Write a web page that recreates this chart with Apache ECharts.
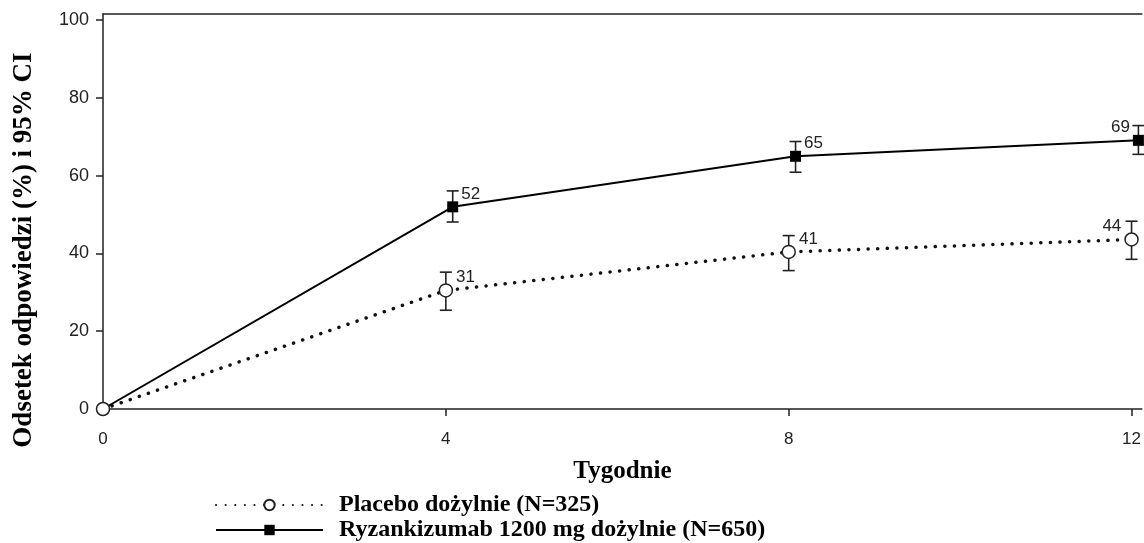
<!DOCTYPE html>
<html lang="pl">
<head>
    <meta charset="UTF-8">
    <title>Odsetek odpowiedzi</title>
    <script type="text/javascript" src="https://cdn.jsdelivr.net/npm/echarts@6/dist/echarts.min.js"></script>
    <style>
        html, body { margin: 0; padding: 0; background: #fff; }
    </style>
</head>
<body>
    <div id="main" style="width: 1144px;height:543px;"></div>
    <script type="text/javascript">
        // dane
        var weeks = [0, 4, 8, 12];
        var xTicks = [0, 4, 8, 12];
        var yTicks = [0, 20, 40, 60, 80, 100];

        var placeboName = 'Placebo dożylnie (N=325)';
        var placeboMean = [0, 30.5, 40.4, 43.6];
        var placeboLow = [null, 25.4, 35.6, 38.5];
        var placeboHigh = [null, 35.2, 44.6, 48.3];
        var placeboLabels = ['', '31', '41', '44'];

        var activeName = 'Ryzankizumab 1200 mg dożylnie (N=650)';
        var activeMean = [0, 52.0, 65.0, 69.1];
        var activeLow = [null, 48.1, 60.9, 65.5];
        var activeHigh = [null, 56.1, 68.8, 72.9];
        var activeLabels = ['', '52', '65', '69'];

        // przesunięcie punktów drugiej grupy, żeby się nie nakładały
        var shift = 0.08;

        var myChart = echarts.init(document.getElementById('main'));

        function pointData(mean, labels, dx, hideFirst) {
            return weeks.map(function (w, i) {
                var item = {
                    value: [w === 0 ? 0 : w + dx, mean[i]],
                    label: {
                        show: labels[i] !== '',
                        formatter: labels[i],
                        position: i === weeks.length - 1 ? 'left' : 'right'
                    }
                };
                if (hideFirst && i === 0) item.symbol = 'none';
                return item;
            });
        }

        function barData(low, high, dx) {
            var out = [];
            weeks.forEach(function (w, i) {
                if (low[i] != null) out.push([w + dx, low[i], high[i]]);
            });
            return out;
        }

        function renderErrorBar(params, api) {
            var x = api.value(0);
            var lo = api.coord([x, api.value(1)]);
            var hi = api.coord([x, api.value(2)]);
            var half = 6;
            var style = { stroke: '#222', lineWidth: 1.6 };
            return {
                type: 'group',
                children: [
                    { type: 'line', shape: { x1: lo[0], y1: lo[1], x2: hi[0], y2: hi[1] }, style: style },
                    { type: 'line', shape: { x1: lo[0] - half, y1: lo[1], x2: lo[0] + half, y2: lo[1] }, style: style },
                    { type: 'line', shape: { x1: hi[0] - half, y1: hi[1], x2: hi[0] + half, y2: hi[1] }, style: style }
                ]
            };
        }

        var labelStyle = {
            fontFamily: 'Liberation Sans',
            fontSize: 17,
            color: '#222',
            distance: 3,
            offset: [0, -13]
        };

        // wspólny wygląd obu wierszy legendy
        function legendRow(name, top) {
            return {
                left: 215,
                top: top,
                padding: 0,
                itemWidth: 107,
                itemHeight: 13,
                textStyle: {
                    fontFamily: 'Liberation Serif',
                    fontWeight: 'bold',
                    fontSize: 24,
                    color: '#000',
                    padding: [0, 0, 0, 11]
                },
                data: [name]
            };
        }

        var option = {
            animation: false,
            // tytuł osi Y (przesunięty w dół jak w oryginale)
            graphic: [{
                type: 'text',
                x: 24,
                y: 250,
                rotation: Math.PI / 2,
                style: {
                    text: 'Odsetek odpowiedzi (%) i 95% CI',
                    fontFamily: 'Liberation Serif',
                    fontWeight: 'bold',
                    fontSize: 27,
                    fill: '#000',
                    align: 'center',
                    verticalAlign: 'middle'
                }
            }],
            grid: {
                left: 103,
                top: 14,
                right: 0,
                bottom: 134
            },
            legend: [legendRow(placeboName, 493), legendRow(activeName, 518)],
            xAxis: [{
                type: 'value',
                min: 0,
                max: 12.12,
                name: 'Tygodnie',
                nameLocation: 'middle',
                nameGap: 50,
                nameTextStyle: {
                    fontFamily: 'Liberation Serif',
                    fontWeight: 'bold',
                    fontSize: 25,
                    color: '#000'
                },
                splitLine: { show: false },
                axisLine: { lineStyle: { color: '#222', width: 1.5 } },
                axisTick: { customValues: xTicks, length: 7, lineStyle: { color: '#222', width: 1.5 } },
                axisLabel: {
                    customValues: xTicks,
                    margin: 22,
                    fontFamily: 'Liberation Sans',
                    fontSize: 17,
                    color: '#222'
                }
            }, {
                // górna krawędź ramki
                type: 'value',
                position: 'top',
                min: 0,
                max: 12.12,
                splitLine: { show: false },
                axisLine: { show: true, lineStyle: { color: '#222', width: 1.5 } },
                axisTick: { show: false },
                axisLabel: { show: false }
            }],
            yAxis: {
                type: 'value',
                min: 0,
                max: 101.6,
                splitLine: { show: false },
                axisLine: { show: true, lineStyle: { color: '#222', width: 1.5 } },
                axisTick: { show: true, customValues: yTicks, length: 7, lineStyle: { color: '#222', width: 1.5 } },
                axisLabel: {
                    customValues: yTicks,
                    margin: 14,
                    fontFamily: 'Liberation Sans',
                    fontSize: 18,
                    color: '#222'
                }
            },
            series: [{
                name: placeboName,
                type: 'line',
                z: 3,
                data: pointData(placeboMean, placeboLabels, 0, false),
                symbol: 'circle',
                symbolSize: 13,
                itemStyle: { color: '#fff', borderColor: '#222', borderWidth: 1.5 },
                lineStyle: { color: '#111', width: 3.5, type: [0.1, 9.5], cap: 'round' },
                label: labelStyle
            }, {
                name: activeName,
                type: 'line',
                z: 3,
                data: pointData(activeMean, activeLabels, shift, true),
                symbol: 'rect',
                symbolSize: 11,
                itemStyle: { color: '#000' },
                lineStyle: { color: '#000', width: 2 },
                label: labelStyle
            }, {
                type: 'custom',
                z: 2,
                renderItem: renderErrorBar,
                data: barData(placeboLow, placeboHigh, 0),
                silent: true
            }, {
                type: 'custom',
                z: 2,
                renderItem: renderErrorBar,
                data: barData(activeLow, activeHigh, shift),
                silent: true
            }]
        };

        myChart.setOption(option);
    </script>
</body>
</html>
